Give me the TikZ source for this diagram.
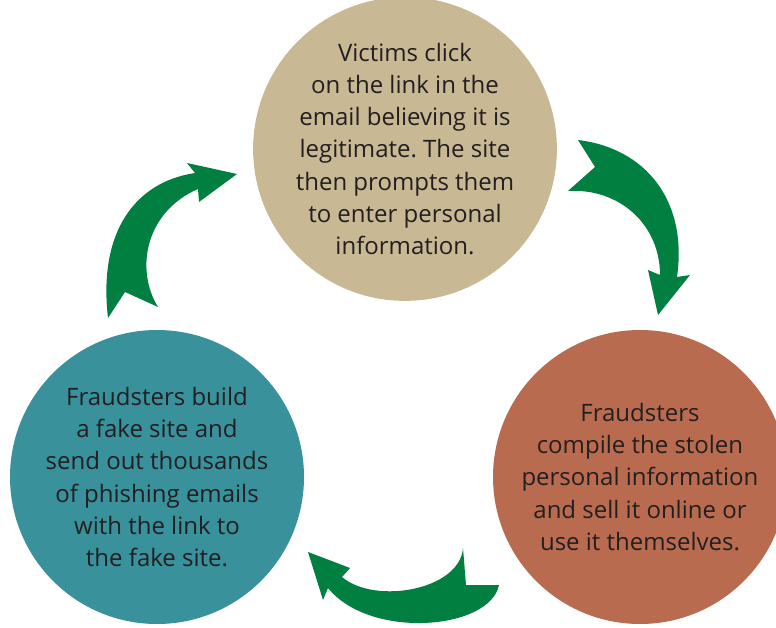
\documentclass[tikz,border=0pt]{standalone}
\usepackage{fontspec}
\setmainfont{Open Sans}
\frenchspacing
\definecolor{beigefill}{HTML}{C8B894}
\definecolor{tealfill}{HTML}{38919B}
\definecolor{rustfill}{HTML}{B96B50}
\definecolor{arrowgreen}{HTML}{007F41}
\definecolor{textgray}{HTML}{231F20}
\begin{document}
\begin{tikzpicture}[x=1pt,y=-1pt,
  circ/.style={circle, minimum size=296pt, inner sep=0pt, align=center,
    text=textgray, font=\fontsize{24}{32.2}\selectfont},
  arr/.style={fill=arrowgreen, draw=none}]
\useasboundingbox (0,0) rectangle (776,628);
\clip (0,0) rectangle (776,628);
\node[circ, fill=beigefill] (victims) at (405,149)
  {Victims click\\on the link in the\\email believing it is\\legitimate. The site\\then prompts them\\to enter personal\\information.};
\node[circ, fill=tealfill, minimum size=294pt] (build) at (157,477)
  {Fraudsters build\\a fake site and\\send out thousands\\of phishing emails\\with the link to\\the fake site.};
\node[circ, fill=rustfill, minimum size=294pt] (compile) at (640,477)
  {Fraudsters\\compile the stolen\\personal information\\and sell it online or\\use it themselves.};
% arrow: build -> victims
\fill[arr] (108,318) -- (125,292) -- (158,307)
  .. controls (135,270) and (145,212) .. (198,189)
  -- (199,202) -- (237,174) -- (187,163) -- (195,173)
  .. controls (135,182) and (98,232) .. (108,318) -- cycle;
% arrow: victims -> compile
\fill[arr] (578,140) .. controls (645,148) and (688,200) .. (677,277)
  -- (690,275) -- (658,315) -- (648,270) -- (660,275)
  .. controls (660,225) and (620,188) .. (568,191)
  -- (595,167) -- cycle;
% arrow: compile -> build
\fill[arr] (499,585) .. controls (490,630) and (370,640) .. (328,588)
  -- (323,600) -- (308,552) -- (350,568) -- (342,577)
  .. controls (375,605) and (460,590) .. (463,548)
  -- (466,585) -- cycle;
\end{tikzpicture}
\end{document}
